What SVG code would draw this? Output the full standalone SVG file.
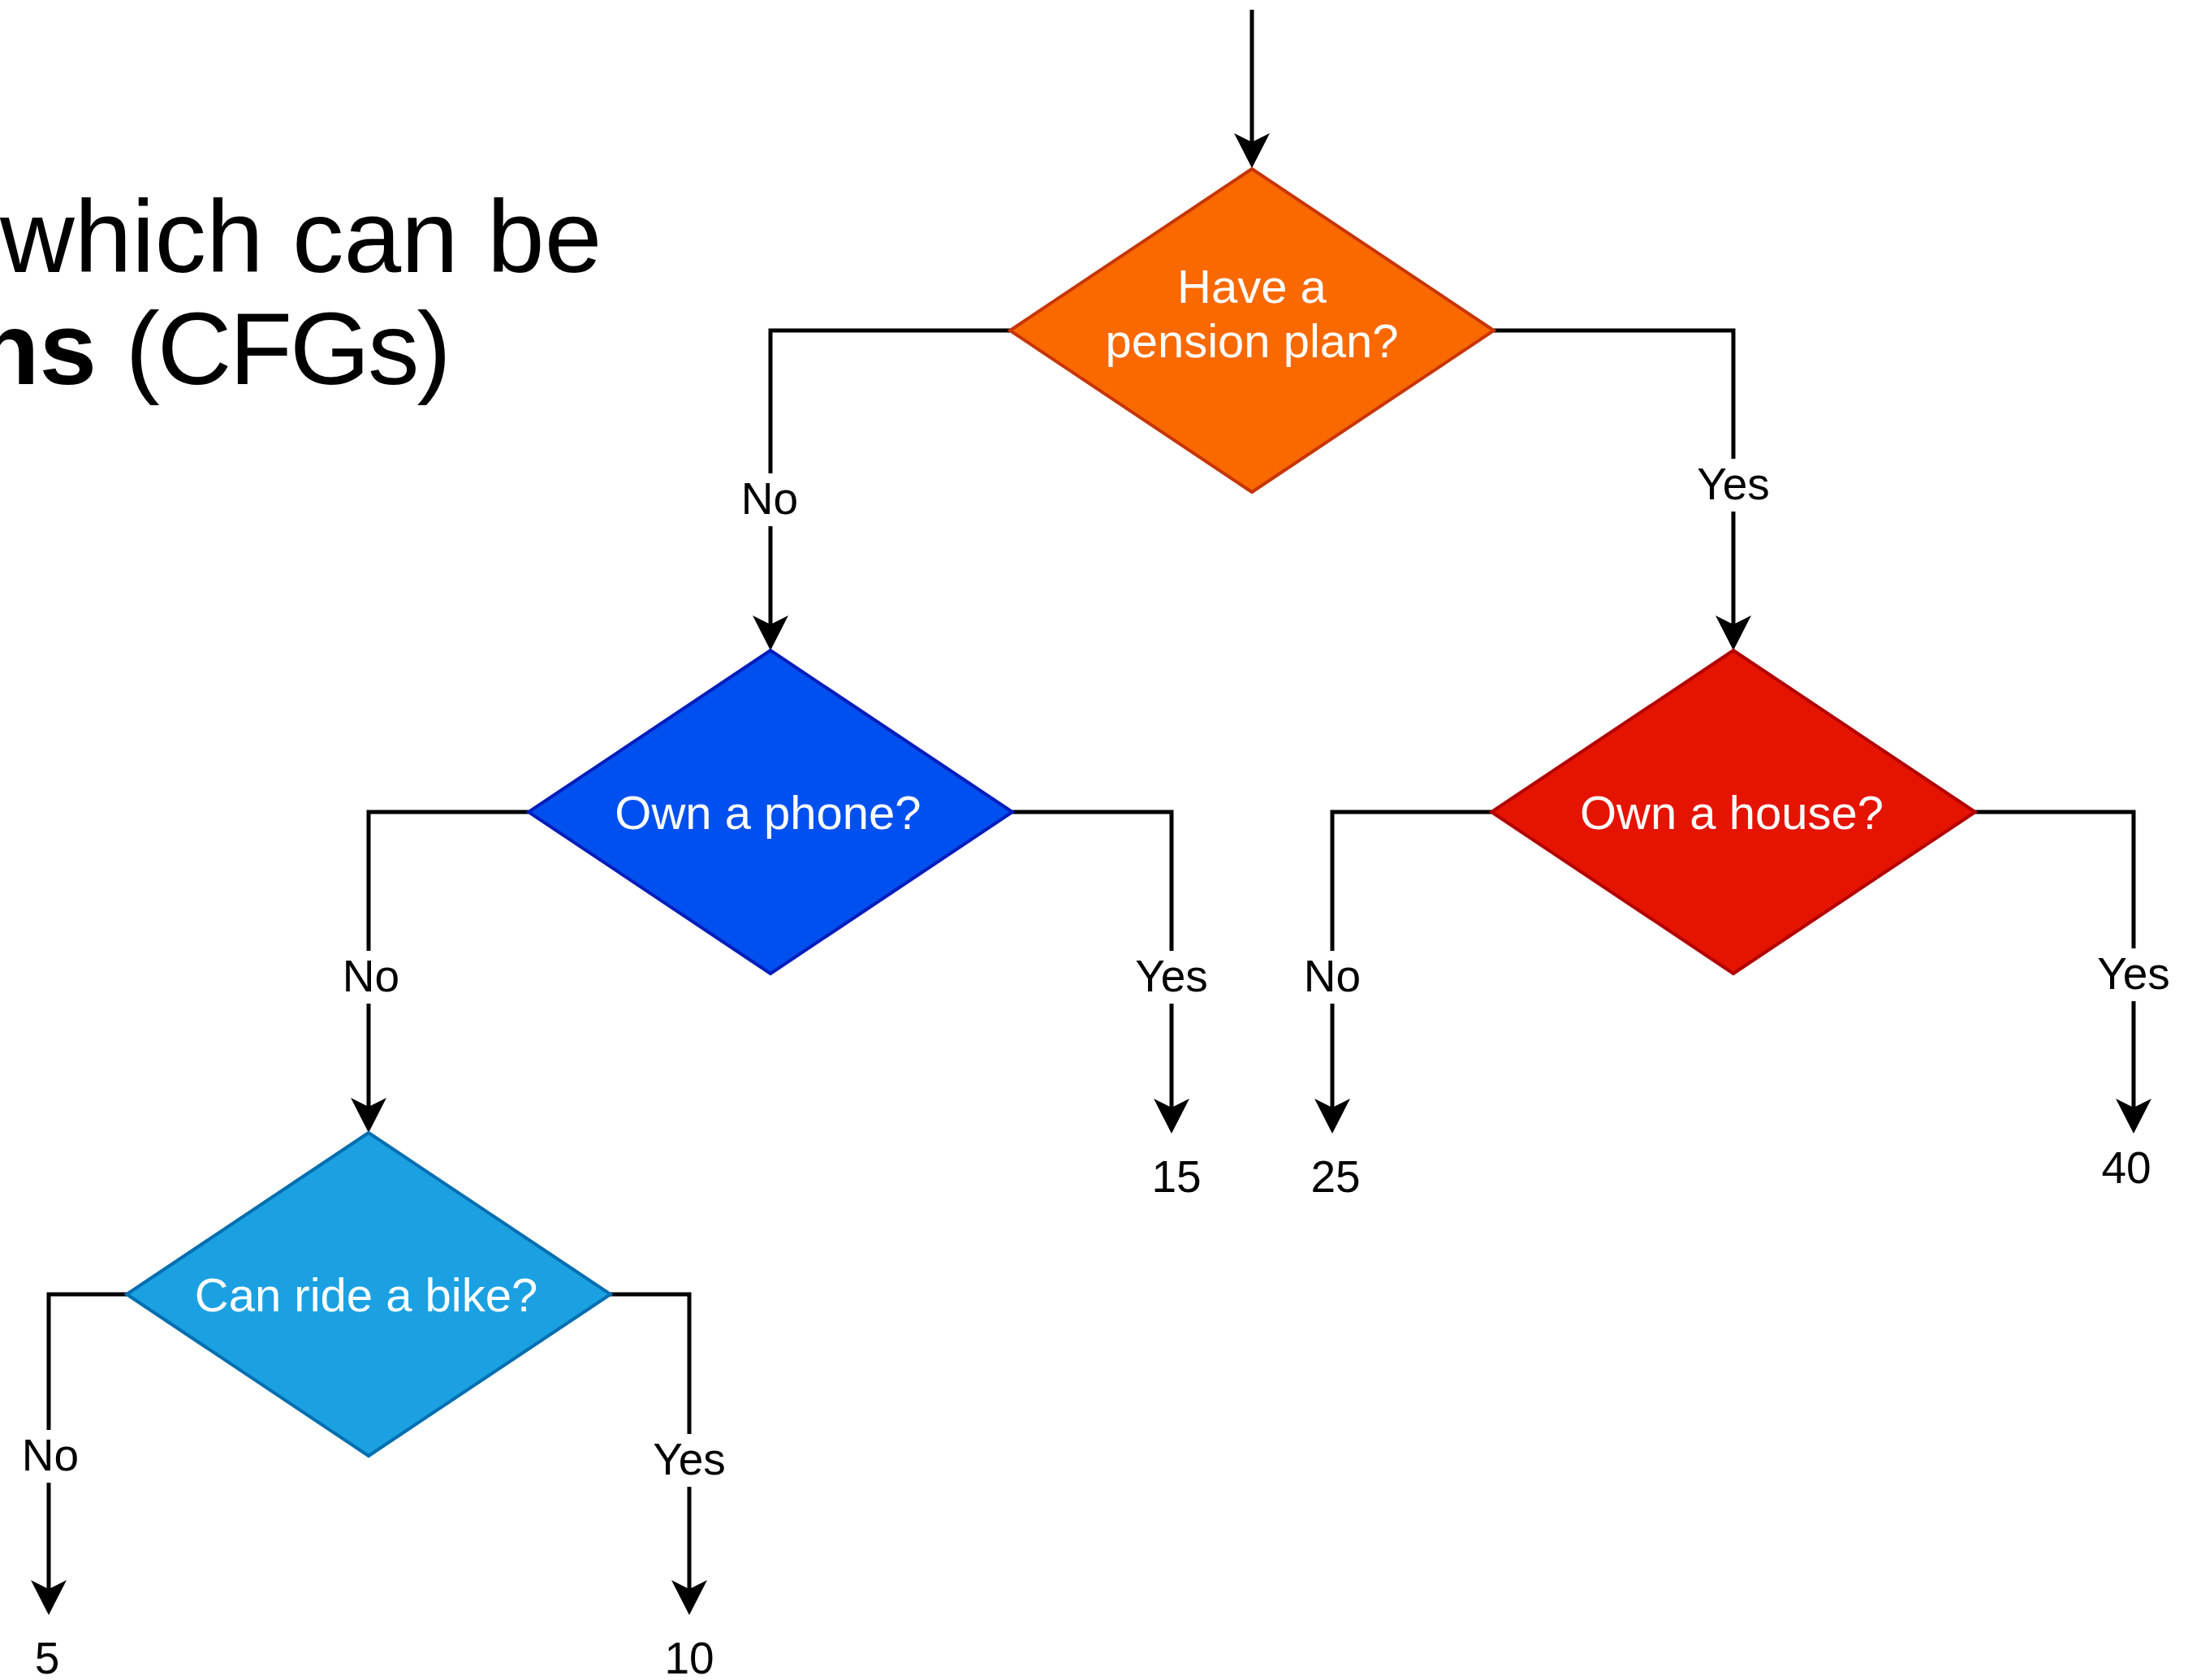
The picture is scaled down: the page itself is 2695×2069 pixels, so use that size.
<svg xmlns="http://www.w3.org/2000/svg" width="2695" height="2069" viewBox="0 0 2695 2069">
<style>
.title{font-family:"Liberation Sans",Arial,Helvetica,sans-serif;font-size:127px;fill:#000}
.ntext{font-family:"Liberation Sans",Arial,Helvetica,sans-serif;font-size:58px;fill:#fff;text-anchor:middle}
.lbl{font-family:"Liberation Sans",Arial,Helvetica,sans-serif;font-size:55px;fill:#000;text-anchor:middle}
.edge{fill:none;stroke:#000;stroke-width:5;marker-end:url(#arr)}
.bg{fill:#fff}
.dia{stroke-width:4}
</style>
<defs>
<marker id="arr" markerUnits="userSpaceOnUse" viewBox="-40 -25 60 50" markerWidth="60" markerHeight="50" refX="0" refY="0" orient="auto">
<path d="M11,0 L-32,-22 L-21,0 L-32,22 Z" fill="#000"/>
</marker>
</defs>
<rect width="2695" height="2069" fill="#fff"/>
<g id="title">
<text class="title" x="0" y="335">which can be</text>
<text class="title" x="-29" y="473"><tspan font-weight="bold">ns</tspan> <tspan letter-spacing="-3">(CFGs)</tspan></text>
</g>
<g id="connectors">
<path class="edge" d="M1542,12 V196"/>
<path class="edge" d="M1244,407 H949 V790"/>
<path class="edge" d="M1840,407 H2135 V790"/>
<path class="edge" d="M651,1000 H454 V1384"/>
<path class="edge" d="M1247,1000 H1443 V1385"/>
<path class="edge" d="M1837,1000 H1641 V1385"/>
<path class="edge" d="M2433,1000 H2628 V1385"/>
<path class="edge" d="M156,1594 H60 V1978"/>
<path class="edge" d="M752,1594 H849 V1978"/>
<g id="edge-labels">
<rect class="bg" x="911" y="583" width="74" height="65"/><text class="lbl" x="948" y="633">No</text>
<rect class="bg" x="2085" y="565" width="100" height="65"/><text class="lbl" x="2135" y="615">Yes</text>
<rect class="bg" x="420" y="1171" width="74" height="65"/><text class="lbl" x="457" y="1221">No</text>
<rect class="bg" x="1393" y="1171" width="100" height="65"/><text class="lbl" x="1443" y="1221">Yes</text>
<rect class="bg" x="1604" y="1171" width="74" height="65"/><text class="lbl" x="1641" y="1221">No</text>
<rect class="bg" x="2578" y="1168" width="100" height="65"/><text class="lbl" x="2628" y="1218">Yes</text>
<rect class="bg" x="25" y="1761" width="74" height="65"/><text class="lbl" x="62" y="1811">No</text>
<rect class="bg" x="799" y="1766" width="100" height="65"/><text class="lbl" x="849" y="1816">Yes</text>
</g>
</g>
<g id="node-pension">
<polygon class="dia" points="1542,208 1840,407 1542,606 1244,407" fill="#fa6800" stroke="#C73500"/>
<text class="ntext" x="1542" y="373">Have a</text>
<text class="ntext" x="1542" y="440">pension plan?</text>
</g>
<g id="node-phone">
<polygon class="dia" points="949,801 1247,1000 949,1199 651,1000" fill="#0050ef" stroke="#001DBC"/>
<text class="ntext" x="946" y="1021">Own a phone?</text>
</g>
<g id="node-house">
<polygon class="dia" points="2135,801 2433,1000 2135,1199 1837,1000" fill="#e51400" stroke="#B20000"/>
<text class="ntext" x="2133" y="1021">Own a house?</text>
</g>
<g id="node-bike">
<polygon class="dia" points="454,1395 752,1594 454,1793 156,1594" fill="#1ba1e2" stroke="#006EAF"/>
<text class="ntext" x="451" y="1615">Can ride a bike?</text>
</g>
<g id="leaf-15"><text class="lbl" x="1449" y="1468">15</text></g>
<g id="leaf-25"><text class="lbl" x="1645" y="1468">25</text></g>
<g id="leaf-40"><text class="lbl" x="2619" y="1457">40</text></g>
<g id="leaf-5"><text class="lbl" x="58" y="2061">5</text></g>
<g id="leaf-10"><text class="lbl" x="849" y="2061">10</text></g>
</svg>
